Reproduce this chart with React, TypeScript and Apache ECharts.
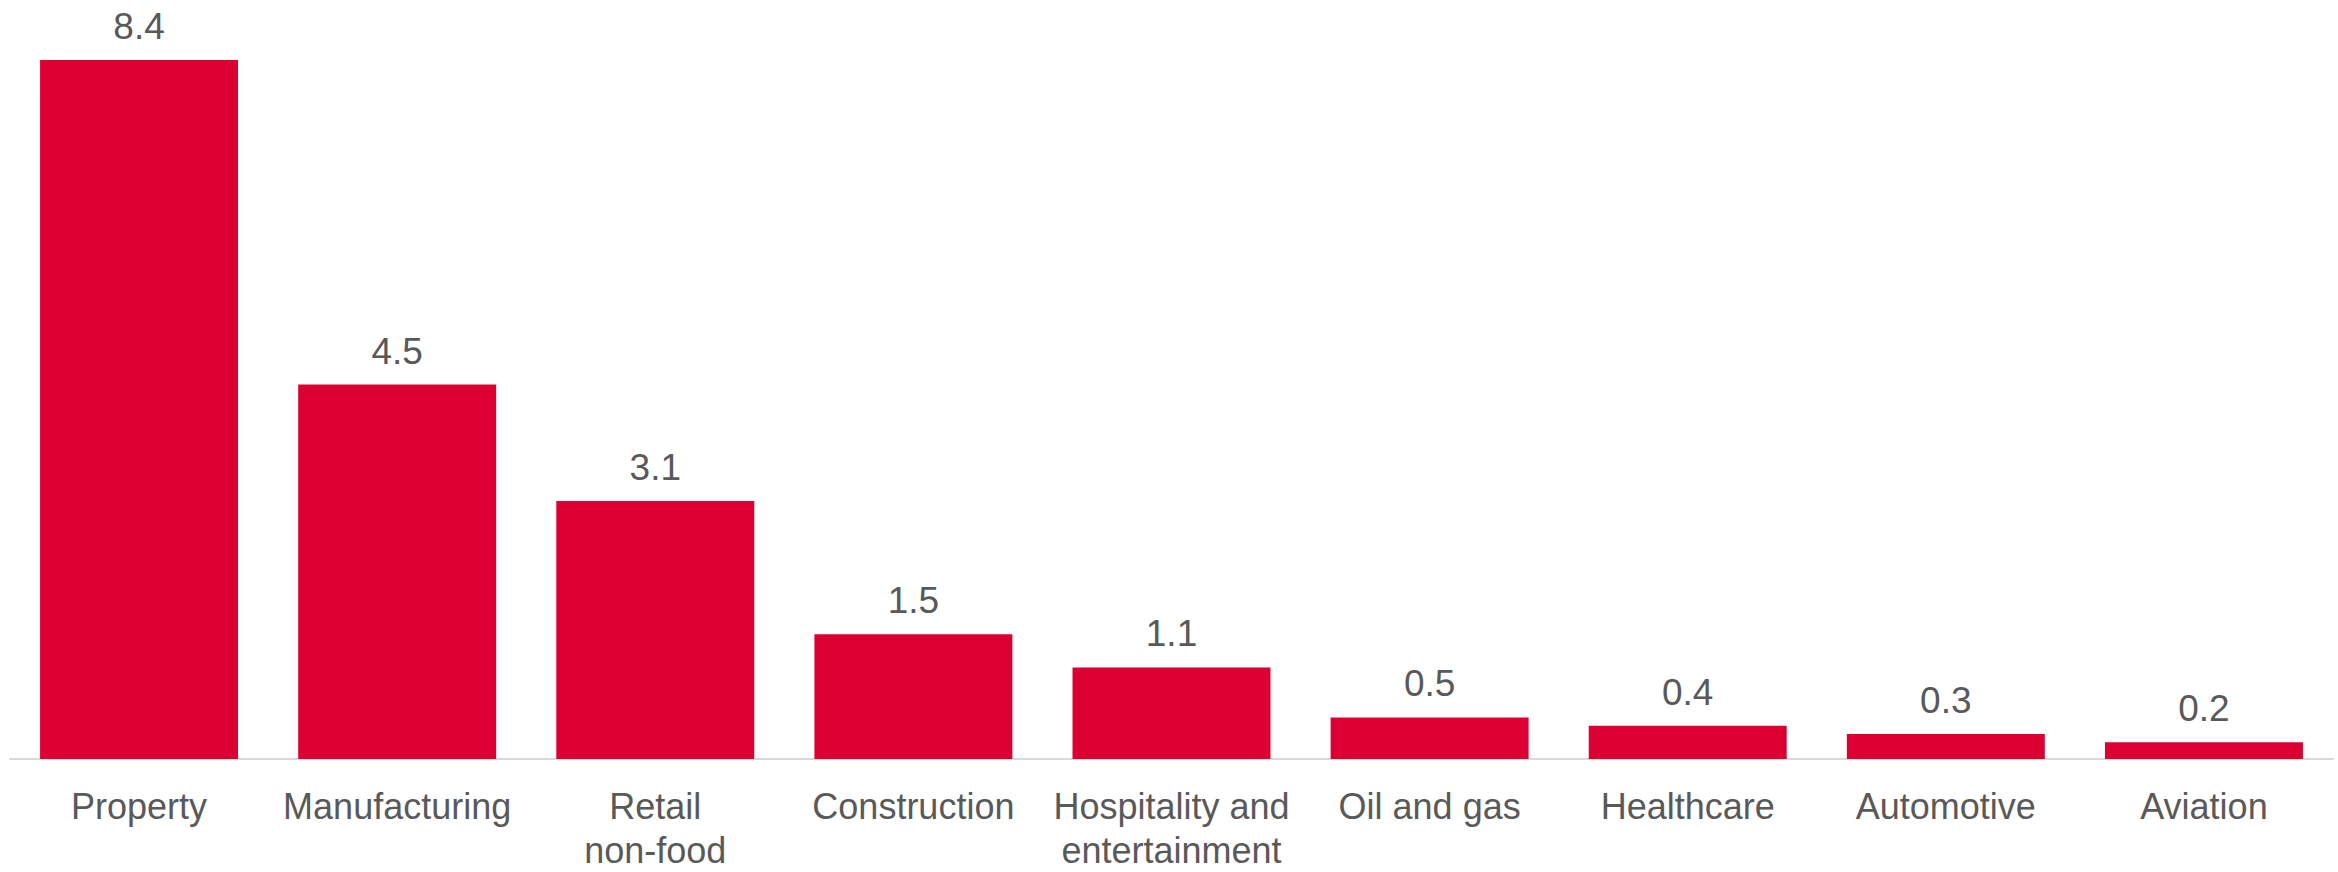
import React, { useEffect, useRef } from "react";
import * as echarts from "echarts";

const categories = [
  "Property",
  "Manufacturing",
  "Retail\nnon-food",
  "Construction",
  "Hospitality and\nentertainment",
  "Oil and gas",
  "Healthcare",
  "Automotive",
  "Aviation",
];
const values = [8.4, 4.5, 3.1, 1.5, 1.1, 0.5, 0.4, 0.3, 0.2];

const FONT = "'Liberation Sans', Arial, sans-serif";
const TEXT = "#595959";
const RED = "#DC0032";

export default function App() {
  const ref = useRef<HTMLDivElement>(null);
  useEffect(() => {
    document.body.style.margin = "0";
    const chart = echarts.init(ref.current!, null, { renderer: "svg" });
    chart.setOption({
      animation: false,
      backgroundColor: "#ffffff",
      grid: { left: 10, right: 5, top: 10, bottom: 107.5, containLabel: false },
      xAxis: {
        type: "category",
        data: categories,
        axisLine: { show: true, lineStyle: { color: "#D9D9D9", width: 2 } },
        axisTick: { show: false },
        axisLabel: {
          interval: 0,
          color: TEXT,
          fontFamily: FONT,
          fontSize: 36,
          lineHeight: 44,
          margin: 25,
        },
      },
      yAxis: {
        type: "value",
        min: 0,
        max: 9,
        show: false,
        splitLine: { show: false },
      },
      series: [
        {
          type: "bar",
          data: values,
          barCategoryGap: "23.3%",
          itemStyle: { color: RED },
          label: {
            show: true,
            position: "top",
            distance: 15,
            color: TEXT,
            fontFamily: FONT,
            fontSize: 37,
            formatter: (p: any) => Number(p.value).toFixed(1),
          },
        },
      ],
    });
    return () => chart.dispose();
  }, []);
  return <div ref={ref} style={{ width: 2338, height: 872 }} />;
}
